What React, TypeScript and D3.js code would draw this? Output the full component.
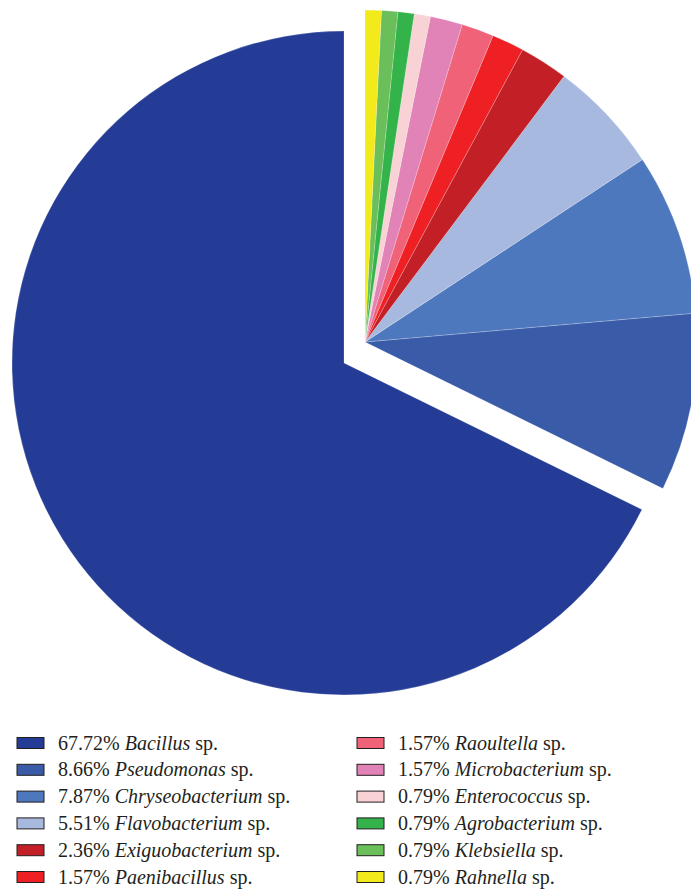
import React from "react";
import * as d3 from "d3";

const names = [
  "Bacillus", "Pseudomonas", "Chryseobacterium", "Flavobacterium", "Exiguobacterium", "Paenibacillus",
  "Raoultella", "Microbacterium", "Enterococcus", "Agrobacterium", "Klebsiella", "Rahnella",
];
const percents = [67.72, 8.66, 7.87, 5.51, 2.36, 1.57, 1.57, 1.57, 0.79, 0.79, 0.79, 0.79];
const colors = [
  "#243c96", "#3a5ba8", "#4e78be", "#a7b9df", "#c21f26", "#ee2024",
  "#f06277", "#e283b8", "#f9d2d5", "#33b34a", "#6abf5a", "#f3ea1c",
];
const percentLabels = ["67.72%", "8.66%", "7.87%", "5.51%", "2.36%", "1.57%", "1.57%", "1.57%", "0.79%", "0.79%", "0.79%", "0.79%"];

const W = 691, H = 892;
const cx = 365, cy = 342, R = 332;
const explode = { dx: -21, dy: 21 };

export default function App() {
  const data = names.map((n, i) => ({ name: n, value: percents[i], color: colors[i], label: percentLabels[i] }));
  const pie = d3.pie<any>().sort(null).value((d) => d.value).startAngle(0).endAngle(-2 * Math.PI);
  const arcs = pie(data);
  const arc = d3.arc<any>().innerRadius(0).outerRadius(R);

  const legX = [17, 357];
  const textOff = 41;
  const legY0 = 743;
  const legStep = 26.8;

  return (
    <svg width={W} height={H} style={{ position: "absolute", left: 0, top: 0 }} xmlns="http://www.w3.org/2000/svg">
      <rect width={W} height={H} fill="#fff" />
      <g transform={`translate(${cx},${cy})`}>
        {arcs.map((a, i) => (
          <path
            key={i}
            d={arc(a) as string}
            fill={a.data.color}
            stroke="#ffffff"
            strokeWidth={0.4}
            strokeOpacity={0.5}
            transform={i === 0 ? `translate(${explode.dx},${explode.dy})` : undefined}
          />
        ))}
      </g>
      <g fontFamily="'Liberation Serif', 'Times New Roman', serif" fontSize={20} fill="#231f20">
        {data.map((d, i) => {
          const col = Math.floor(i / 6);
          const row = i % 6;
          const x = legX[col];
          const y = legY0 + row * legStep;
          return (
            <g key={i}>
              <rect x={x} y={y - 5.5} width={27} height={11} fill={d.color} stroke="#231f20" strokeWidth={1} />
              <text x={x + textOff} y={y} dy="0.33em">
                <tspan>{d.label} </tspan>
                <tspan fontStyle="italic">{d.name}</tspan>
                <tspan> sp.</tspan>
              </text>
            </g>
          );
        })}
      </g>
    </svg>
  );
}
